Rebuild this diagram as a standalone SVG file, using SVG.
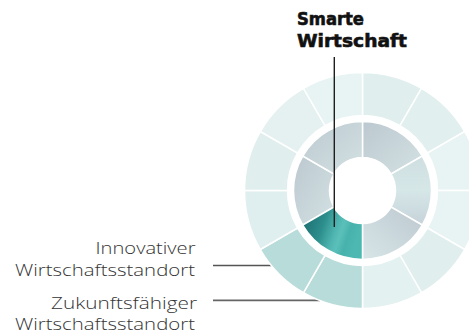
<svg xmlns="http://www.w3.org/2000/svg" width="469" height="334" viewBox="0 0 469 334">
<style>
.seg{stroke:#fff;stroke-width:1.5}
.lbl{font-family:"Open Sans","DejaVu Sans",sans-serif;font-weight:300;font-size:17px;fill:#333}
.ttl{font-family:"DejaVu Sans","Liberation Sans",sans-serif;font-weight:bold;font-size:17px;fill:#111;stroke:#111;stroke-width:0.6}
.con{fill:none;stroke-linecap:butt}
</style>
<defs>
<linearGradient id="g1" x1="0" y1="0" x2="1" y2="1">
<stop offset="0" stop-color="#bcc8cf"/><stop offset="1" stop-color="#d3e2e4"/>
</linearGradient>
<linearGradient id="g2" x1="0" y1="0" x2="0" y2="1">
<stop offset="0" stop-color="#cfdfe1"/><stop offset="0.5" stop-color="#d6e7e8"/><stop offset="1" stop-color="#c6d3d9"/>
</linearGradient>
<linearGradient id="g3" x1="0" y1="1" x2="1" y2="0">
<stop offset="0" stop-color="#d8e6e8"/><stop offset="1" stop-color="#bcc8cf"/>
</linearGradient>
<linearGradient id="gt" x1="0" y1="0" x2="1" y2="0.3">
<stop offset="0" stop-color="#1b676c"/><stop offset="0.4" stop-color="#2c8e8c"/><stop offset="0.62" stop-color="#4fb5b0"/><stop offset="0.72" stop-color="#5cc0ba"/><stop offset="0.85" stop-color="#47b1ab"/><stop offset="1" stop-color="#4db8b2"/>
</linearGradient>
</defs>
<g id="connectors">
<line class="con" x1="213" y1="265.5" x2="272" y2="265.5" stroke="#555" stroke-width="1.3"/>
<line class="con" x1="213" y1="300.3" x2="320" y2="300.3" stroke="#666" stroke-width="1.8"/>
</g>
<g id="outer-ring">
<path class="seg" fill="#e0eeee" d="M362.5,72.5 A118,118 0 0 1 421.5,88.31 L400,125.55 A75,75 0 0 0 362.5,115.5 Z"/>
<path class="seg" fill="#e1efee" d="M421.5,88.31 A118,118 0 0 1 464.69,131.5 L427.45,153 A75,75 0 0 0 400,125.55 Z"/>
<path class="seg" fill="#e8f3f3" d="M464.69,131.5 A118,118 0 0 1 480.5,190.5 L437.5,190.5 A75,75 0 0 0 427.45,153 Z"/>
<path class="seg" fill="#e8f3f3" d="M480.5,190.5 A118,118 0 0 1 464.69,249.5 L427.45,228 A75,75 0 0 0 437.5,190.5 Z"/>
<path class="seg" fill="#e0eeee" d="M464.69,249.5 A118,118 0 0 1 421.5,292.69 L400,255.45 A75,75 0 0 0 427.45,228 Z"/>
<path class="seg" fill="#e4f1f1" d="M421.5,292.69 A118,118 0 0 1 362.5,308.5 L362.5,265.5 A75,75 0 0 0 400,255.45 Z"/>
<path class="seg" fill="#b8dcda" d="M362.5,308.5 A118,118 0 0 1 303.5,292.69 L325,255.45 A75,75 0 0 0 362.5,265.5 Z"/>
<path class="seg" fill="#b8dcda" d="M303.5,292.69 A118,118 0 0 1 260.31,249.5 L297.55,228 A75,75 0 0 0 325,255.45 Z"/>
<path class="seg" fill="#dfeeee" d="M260.31,249.5 A118,118 0 0 1 244.5,190.5 L287.5,190.5 A75,75 0 0 0 297.55,228 Z"/>
<path class="seg" fill="#e0eeee" d="M244.5,190.5 A118,118 0 0 1 260.31,131.5 L297.55,153 A75,75 0 0 0 287.5,190.5 Z"/>
<path class="seg" fill="#e5f1f1" d="M260.31,131.5 A118,118 0 0 1 303.5,88.31 L325,125.55 A75,75 0 0 0 297.55,153 Z"/>
<path class="seg" fill="#e8f3f3" d="M303.5,88.31 A118,118 0 0 1 362.5,72.5 L362.5,115.5 A75,75 0 0 0 325,125.55 Z"/>
</g>
<g id="inner-ring">
<path class="seg" fill="url(#g1)" d="M362.5,121.5 A69,69 0 0 1 422.26,156 L391.08,174 A33,33 0 0 0 362.5,157.5 Z"/>
<path class="seg" fill="url(#g2)" d="M422.26,156 A69,69 0 0 1 422.26,225 L391.08,207 A33,33 0 0 0 391.08,174 Z"/>
<path class="seg" fill="url(#g3)" d="M422.26,225 A69,69 0 0 1 362.5,259.5 L362.5,223.5 A33,33 0 0 0 391.08,207 Z"/>
<path class="seg" fill="url(#g1)" d="M302.74,225 A69,69 0 0 1 302.74,156 L333.92,174 A33,33 0 0 0 333.92,207 Z"/>
<path class="seg" fill="url(#g1)" d="M302.74,156 A69,69 0 0 1 362.5,121.5 L362.5,157.5 A33,33 0 0 0 333.92,174 Z"/>
</g>
<g id="smarte-wirtschaft-segment">
<path class="seg" fill="url(#gt)" d="M362.5,259.5 A69,69 0 0 1 302.74,225 L333.92,207 A33,33 0 0 0 362.5,223.5 Z"/>
</g>
<g id="connector-smarte">
<line class="con" x1="334.3" y1="57" x2="334.3" y2="227" stroke="#1e1e1e" stroke-width="1.4"/>
</g>
<g id="label-smarte">
<text class="ttl" x="297" y="25" textLength="67" lengthAdjust="spacingAndGlyphs">Smarte</text>
<text class="ttl" x="297" y="46.5" textLength="110" lengthAdjust="spacingAndGlyphs">Wirtschaft</text>
</g>
<g id="label-innovativer">
<text class="lbl" x="95.5" y="253.5" textLength="100" lengthAdjust="spacingAndGlyphs">Innovativer</text>
<text class="lbl" x="15" y="275.5" textLength="180" lengthAdjust="spacingAndGlyphs">Wirtschaftsstandort</text>
</g>
<g id="label-zukunft">
<text class="lbl" x="51" y="308.5" textLength="146" lengthAdjust="spacingAndGlyphs">Zukunftsfähiger</text>
<text class="lbl" x="15" y="329.5" textLength="180" lengthAdjust="spacingAndGlyphs">Wirtschaftsstandort</text>
</g>
</svg>
